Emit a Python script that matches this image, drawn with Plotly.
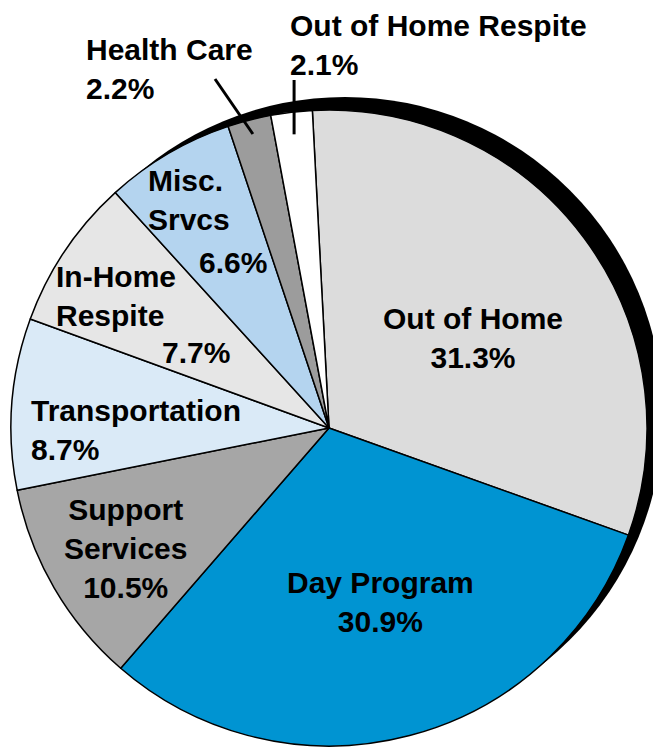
import math
import plotly.graph_objects as go

# ---- data ----
categories = ["Out of Home", "Day Program", "Support Services", "Transportation",
              "In-Home Respite", "Misc. Srvcs", "Health Care", "Out of Home Respite"]
values = [31.3, 30.9, 10.5, 8.7, 7.7, 6.6, 2.2, 2.1]
colors = ["#dcdcdc", "#0094d2", "#a6a6a6", "#daeaf7",
          "#e6e6e6", "#b4d4ef", "#9c9c9c", "#ffffff"]

# ---- layout geometry (screen pixels; page body has an 8px margin) ----
OFF = 8
W, H = 661 - OFF, 748 - OFF
CX, CY, R = 329, 428, 318
SHADOW_DX, SHADOW_DY = 16, -13
ROT = -3.0
PAD = 3

def px(x):
    return (x - OFF) / W

def py(y):
    return 1 - (y - OFF) / H

FONT = "Liberation Sans, Arial, sans-serif"
FS = 30

fig = go.Figure()
fig.add_trace(go.Pie(
    labels=categories,
    values=values,
    sort=False,
    direction="clockwise",
    rotation=ROT,
    marker=dict(colors=colors, line=dict(color="black", width=1.5)),
    textinfo="none",
    hoverinfo="skip",
    showlegend=False,
    domain=dict(x=[px(CX - R), px(CX + R)], y=[py(CY + R), py(CY - R)]),
))

shapes = [dict(
    type="circle", xref="paper", yref="paper", layer="below",
    x0=px(CX - R + SHADOW_DX), x1=px(CX + R + SHADOW_DX),
    y0=py(CY + R + SHADOW_DY), y1=py(CY - R + SHADOW_DY),
    fillcolor="black", line=dict(color="black", width=0),
)]

# leader lines for small slices, anchored at the slice mid-angle
total = sum(values)
cum = 0.0
mids = []
for v in values:
    mids.append(ROT + (cum + v / 2) / total * 360)
    cum += v

def polar(angle_deg, r):
    a = math.radians(angle_deg)
    return CX + r * math.sin(a), CY - r * math.cos(a)

hx, hy = polar(mids[6], 0.955 * R)
shapes.append(dict(type="line", xref="paper", yref="paper",
                   x0=px(215), y0=py(79), x1=px(hx), y1=py(hy),
                   line=dict(color="black", width=3)))
ox, oy = polar(mids[7], 0.93 * R)
shapes.append(dict(type="line", xref="paper", yref="paper",
                   x0=px(ox), y0=py(80), x1=px(ox), y1=py(oy),
                   line=dict(color="black", width=3)))

def pct(i):
    return f"{values[i]}%"

def ann(text, x, y, xanchor="center", align="center"):
    if xanchor == "left":
        x -= PAD
    return dict(text=f"<b>{text}</b>", x=px(x), y=py(y), xref="paper", yref="paper",
                xanchor=xanchor, yanchor="middle", align=align, showarrow=False,
                borderpad=0,
                font=dict(family=FONT, size=FS, color="black"))

annotations = [
    ann(f"{categories[0]}<br>{pct(0)}", 473, 338),
    ann(f"{categories[1]}<br>{pct(1)}", 380, 602),
    ann("Support<br>Services<br>" + pct(2), 125, 548),
    ann(f"{categories[3]}<br>{pct(3)}", 33, 430, "left", "left"),
    ann("In-Home<br>Respite", 58, 296, "left", "left"),
    ann(pct(4), 196, 352),
    ann("Misc.<br>Srvcs", 150, 200, "left", "left"),
    ann(pct(5), 233, 262),
    ann(f"{categories[6]}<br>{pct(6)}", 88, 69, "left", "left"),
    ann(f"{categories[7]}<br>{pct(7)}", 292, 45, "left", "left"),
]

fig.update_layout(
    width=W, height=H,
    margin=dict(l=0, r=0, t=0, b=0),
    paper_bgcolor="white", plot_bgcolor="white",
    shapes=shapes, annotations=annotations,
)

fig.write_html("out.html")
